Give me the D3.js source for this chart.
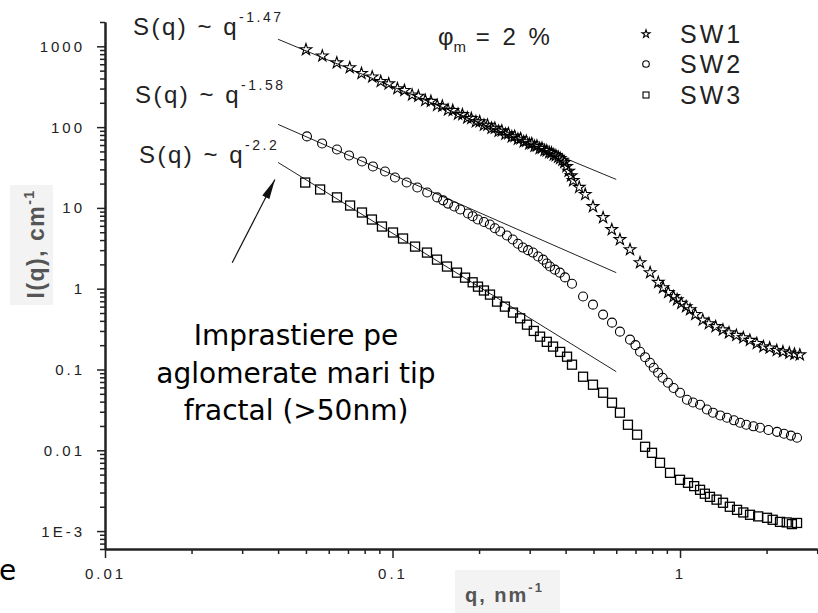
<!DOCTYPE html>
<html>
<head>
<meta charset="utf-8">
<script src="https://cdnjs.cloudflare.com/ajax/libs/d3/7.8.5/d3.min.js"></script>
<style>
    body { margin: 0; background: #fff; }
    svg { display: block; }
</style>
<script>
    // SW1 (stars)
    var sw1Q = [0.050, 0.057, 0.064, 0.071, 0.078, 0.085, 0.091, 0.097, 0.104, 0.110,
                0.117, 0.123, 0.130, 0.136, 0.143, 0.149, 0.156, 0.162, 0.169, 0.175,
                0.182, 0.188, 0.195, 0.201, 0.208, 0.214, 0.221, 0.227, 0.234, 0.240,
                0.247, 0.253, 0.260, 0.266, 0.273, 0.279, 0.286, 0.292, 0.299, 0.305,
                0.312, 0.318, 0.325, 0.331, 0.338, 0.344, 0.351, 0.357, 0.364, 0.370,
                0.377, 0.383, 0.390, 0.396, 0.403, 0.410, 0.418, 0.425, 0.446, 0.468,
                0.498, 0.540, 0.579, 0.618, 0.670, 0.726, 0.787, 0.840, 0.873, 0.910,
                0.950, 0.977, 1.01, 1.05, 1.084, 1.13, 1.20, 1.26, 1.33, 1.41,
                1.48, 1.57, 1.66, 1.75, 1.85, 1.95, 2.05, 2.17, 2.28, 2.40,
                2.50, 2.61];
    var sw1I = [910, 760, 625, 545, 462, 418, 368, 344, 300, 285,
                250, 242, 214, 209, 186, 182, 163, 161, 145, 143,
                130, 128, 117, 117, 106, 106, 97, 97, 89, 90,
                82, 83, 76, 77, 71, 72, 66, 67, 62, 62.5,
                58, 58.5, 54.5, 55, 51.5, 51, 48.5, 48, 45.5, 44.5,
                42.5, 41, 39, 36.5, 32.5, 28.5, 25, 21.8, 18, 14.7,
                10.4, 7.6, 5.4, 4.06, 3.05, 2.10, 1.58, 1.2, 1.03, 0.9,
                0.8, 0.73, 0.66, 0.6, 0.55, 0.48, 0.41, 0.37, 0.34, 0.31,
                0.285, 0.265, 0.248, 0.23, 0.21, 0.192, 0.185, 0.172, 0.166, 0.16,
                0.155, 0.152];

    // SW2 (circles)
    var sw2Q = [0.0504, 0.0569, 0.0641, 0.0706, 0.0783, 0.0855, 0.0942, 0.102, 0.112, 0.122,
                0.132, 0.143, 0.150, 0.156, 0.164, 0.172, 0.183, 0.190, 0.198, 0.208,
                0.218, 0.227, 0.237, 0.250, 0.262, 0.273, 0.284, 0.296, 0.308, 0.321,
                0.334, 0.344, 0.353, 0.367, 0.382, 0.398, 0.421, 0.460, 0.498, 0.540,
                0.580, 0.618, 0.670, 0.700, 0.726, 0.756, 0.786, 0.810, 0.839, 0.870,
                0.908, 0.950, 1.0, 1.057, 1.11, 1.174, 1.24, 1.302, 1.38, 1.457,
                1.54, 1.617, 1.70, 1.80, 1.898, 2.03, 2.175, 2.30, 2.43, 2.553];
    var sw2I = [76.7, 62.8, 52.9, 44.6, 37.6, 32.6, 28.2, 23.8, 20.6, 17.9,
                15.5, 13.5, 12.4, 11.3, 10.4, 9.55, 8.52, 7.9, 7.18, 6.7,
                6.23, 5.6, 5.10, 4.55, 4.06, 3.6, 3.23, 3.0, 2.80, 2.5,
                2.29, 2.05, 1.88, 1.72, 1.58, 1.38, 1.15, 0.80, 0.635, 0.478,
                0.38, 0.294, 0.234, 0.2, 0.166, 0.142, 0.121, 0.105, 0.0913, 0.079,
                0.0686, 0.059, 0.0516, 0.0422, 0.039, 0.0366, 0.032, 0.0292, 0.027, 0.0253,
                0.0235, 0.0219, 0.0207, 0.0198, 0.019, 0.0178, 0.0169, 0.016, 0.0152, 0.0143];

    // SW3 (squares)
    var sw3Q = [0.0497, 0.0560, 0.0641, 0.0712, 0.0783, 0.0848, 0.0919, 0.1004, 0.1088, 0.1198,
                0.1318, 0.1428, 0.1547, 0.1676, 0.1788, 0.190, 0.1983, 0.208, 0.2183, 0.231,
                0.246, 0.2624, 0.278, 0.2936, 0.310, 0.326, 0.344, 0.3617, 0.383, 0.4046,
                0.421, 0.460, 0.498, 0.540, 0.580, 0.618, 0.659, 0.709, 0.756, 0.799,
                0.852, 0.923, 1.0, 1.066, 1.12, 1.174, 1.22, 1.271, 1.34, 1.411,
                1.49, 1.579, 1.66, 1.752, 1.87, 2.007, 2.10, 2.227, 2.35, 2.45, 2.553];
    var sw3I = [20.6, 16.9, 13.5, 10.7, 8.77, 7.18, 5.88, 4.96, 4.18, 3.32,
                2.80, 2.29, 1.88, 1.58, 1.37, 1.2, 1.06, 0.95, 0.845, 0.692,
                0.6, 0.506, 0.43, 0.359, 0.3, 0.255, 0.22, 0.192, 0.165, 0.144,
                0.1147, 0.0814, 0.0648, 0.0516, 0.0388, 0.0292, 0.0207, 0.0156, 0.01105, 0.0093,
                0.0070, 0.00526, 0.00431, 0.00396, 0.0036, 0.00324, 0.0029, 0.00265, 0.00245, 0.00224,
                0.002, 0.00183, 0.0017, 0.00159, 0.00152, 0.00146, 0.00138, 0.0013, 0.00128, 0.00122, 0.00126];

    // power-law fit lines S(q) ~ q^-D, read at their two ends
    var fitQ = [0.04, 0.6];
    var fit1 = [1222, 22.5];
    var fit2 = [108, 1.58];
    var fit3 = [36.5, 0.094];
    var fitLabels = ["-1.47", "-1.58", "-2.2"];

    // arrow pointing to the fractal region (tail, head)
    var arrowQ = [0.0277, 0.039];
    var arrowI = [2.1, 22.5];

    var yMajor = [1000, 100, 10, 1, 0.1, 0.01, 0.001];
    var yMajorLabels = ["1000", "100", "10", "1", "0.1", "0.01", "1E-3"];
    var xMajor = [0.01, 0.1, 1];
    var xMajorLabels = ["0.01", "0.1", "1"];

    var seriesNames = ["SW1", "SW2", "SW3"];

    function makeSVG() {
        var svg = d3.select("body").append("svg")
                    .attr("width", 818)
                    .attr("height", 613);

        var x = d3.scaleLog().domain([0.01, 3]).range([105, 817.2]);
        var y = d3.scaleLog().domain([6e-4, 2000]).range([549, 22]);

        var axisColor = "#222";
        var font = "'Liberation Sans', Arial, sans-serif";

        // minor tick values
        var yMinor = [], xMinor = [];
        for (var e = -4; e <= 3; e++)
            for (var m = 2; m <= 9; m++) {
                var v = m * Math.pow(10, e);
                if (v >= 6e-4 && v <= 2000) yMinor.push(v);
            }
        for (var e = -2; e <= 0; e++)
            for (var m = 2; m <= 9; m++) {
                var v = m * Math.pow(10, e);
                if (v <= 3) xMinor.push(v);
            }

        // axis label boxes
        svg.append("rect").attr("x", 10).attr("y", 185).attr("width", 43).attr("height", 120).attr("fill", "#f3f3f3");
        svg.append("rect").attr("x", 455).attr("y", 570).attr("width", 105).attr("height", 43).attr("fill", "#f3f3f3");

        // axes
        var gy = svg.append("g").attr("transform", "translate(105,0)");
        gy.append("g").call(d3.axisLeft(y).tickValues(yMinor).tickSize(5).tickSizeOuter(0).tickFormat(""));
        gy.append("g").call(d3.axisLeft(y).tickValues(yMajor).tickSize(8).tickSizeOuter(0).tickFormat(""));

        var gx = svg.append("g").attr("transform", "translate(0,549)");
        gx.append("g").call(d3.axisBottom(x).tickValues(xMinor).tickSize(5).tickSizeOuter(0).tickFormat(""));
        gx.append("g").call(d3.axisBottom(x).tickValues(xMajor).tickSize(9).tickSizeOuter(0).tickFormat(""));

        svg.selectAll(".domain").attr("stroke", axisColor).attr("stroke-width", 2);
        svg.selectAll(".tick line").attr("stroke", axisColor).attr("stroke-width", 1.5);

        svg.append("g").selectAll("text").data(yMajor)
           .enter().append("text")
           .attr("x", 85)
           .attr("y", d => y(d) + 5.5)
           .attr("text-anchor", "end")
           .attr("font-family", font)
           .attr("font-size", "15px")
           .attr("letter-spacing", "3px")
           .attr("fill", "#222")
           .text((d, i) => yMajorLabels[i]);

        svg.append("g").selectAll("text").data(xMajor)
           .enter().append("text")
           .attr("x", d => x(d) + 0.5)
           .attr("y", 579)
           .attr("text-anchor", "middle")
           .attr("font-family", font)
           .attr("font-size", "15px")
           .attr("letter-spacing", "3px")
           .attr("fill", "#222")
           .text((d, i) => xMajorLabels[i]);

        // axis titles
        var yt = svg.append("text")
                    .attr("transform", "translate(44,244) rotate(-90)")
                    .attr("text-anchor", "middle")
                    .attr("font-family", font)
                    .attr("font-weight", "bold")
                    .attr("font-size", "23px")
                    .attr("letter-spacing", "1.5px")
                    .attr("fill", "#555");
        yt.append("tspan").text("I(q), cm");
        yt.append("tspan").attr("dy", -10).attr("font-size", "14px").text("-1");

        var xt = svg.append("text")
                    .attr("x", 465)
                    .attr("y", 602)
                    .attr("font-family", font)
                    .attr("font-weight", "bold")
                    .attr("font-size", "20px")
                    .attr("letter-spacing", "2px")
                    .attr("fill", "#555");
        xt.append("tspan").text("q, nm");
        xt.append("tspan").attr("dy", -10).attr("font-size", "13px").text("-1");

        // fit lines
        var line = d3.line().x(d => x(d[0])).y(d => y(d[1]));
        [fit1, fit2, fit3].forEach(function (f) {
            svg.append("path")
               .attr("d", line(fitQ.map((q, i) => [q, f[i]])))
               .attr("fill", "none")
               .attr("stroke", "#222")
               .attr("stroke-width", 1);
        });

        // data
        var star = d3.symbol().type(d3.symbolStar).size(42);
        svg.append("g").selectAll("path").data(sw1Q)
           .enter().append("path")
           .attr("d", star)
           .attr("transform", (d, i) => "translate(" + x(d) + "," + y(sw1I[i]) + ")")
           .attr("fill", "none")
           .attr("stroke", "#000")
           .attr("stroke-width", 1.1);

        svg.append("g").selectAll("circle").data(sw2Q)
           .enter().append("circle")
           .attr("cx", d => x(d))
           .attr("cy", (d, i) => y(sw2I[i]))
           .attr("r", 4.5)
           .attr("fill", "none")
           .attr("stroke", "#000")
           .attr("stroke-width", 1.1);

        svg.append("g").selectAll("rect").data(sw3Q)
           .enter().append("rect")
           .attr("x", d => x(d) - 4.5)
           .attr("y", (d, i) => y(sw3I[i]) - 4.5)
           .attr("width", 9)
           .attr("height", 9)
           .attr("fill", "none")
           .attr("stroke", "#000")
           .attr("stroke-width", 1.3);

        // arrow
        svg.append("defs").append("marker")
           .attr("id", "head")
           .attr("viewBox", "0 0 20 8")
           .attr("refX", 20).attr("refY", 4)
           .attr("markerWidth", 20).attr("markerHeight", 8)
           .attr("markerUnits", "userSpaceOnUse")
           .attr("orient", "auto")
           .append("path").attr("d", "M0,0 L20,4 L0,8 Z").attr("fill", "#111");
        svg.append("line")
           .attr("x1", x(arrowQ[0])).attr("y1", y(arrowI[0]))
           .attr("x2", x(arrowQ[1])).attr("y2", y(arrowI[1]))
           .attr("stroke", "#111").attr("stroke-width", 1.2)
           .attr("marker-end", "url(#head)");

        // S(q) labels
        var sLabelX = [133, 135, 139];
        var sLabelY = [35, 103, 163];
        fitLabels.forEach(function (lab, i) {
            var t = svg.append("text")
                       .attr("x", sLabelX[i])
                       .attr("y", sLabelY[i])
                       .attr("font-family", font)
                       .attr("font-size", "24px")
                       .attr("letter-spacing", "2.5px")
                       .attr("fill", "#222");
            t.append("tspan").text("S(q) ~ q");
            t.append("tspan").attr("dy", -13).attr("font-size", "14px").attr("letter-spacing", "2.5px").text(lab);
        });

        // phi_m
        var ph = svg.append("text")
                    .attr("x", 438).attr("y", 45)
                    .attr("font-family", font)
                    .attr("font-size", "24px")
                    .attr("fill", "#222");
        ph.append("tspan").text("\u03c6");
        ph.append("tspan").attr("dy", 7).attr("font-size", "15px").text("m");
        ph.append("tspan").attr("dy", -7).attr("letter-spacing", "3px").text(" = 2 %");

        // legend
        var legY = [34, 64, 95];
        var leg = svg.append("g");
        leg.append("path").attr("d", d3.symbol().type(d3.symbolStar).size(20))
           .attr("transform", "translate(646," + legY[0] + ")")
           .attr("fill", "none").attr("stroke", "#000").attr("stroke-width", 1.1);
        leg.append("circle").attr("cx", 646).attr("cy", legY[1]).attr("r", 3.3)
           .attr("fill", "none").attr("stroke", "#000").attr("stroke-width", 1.1);
        leg.append("rect").attr("x", 643).attr("y", legY[2] - 3).attr("width", 6).attr("height", 6)
           .attr("fill", "none").attr("stroke", "#000").attr("stroke-width", 1.1);
        leg.selectAll("text").data(seriesNames)
           .enter().append("text")
           .attr("x", 680)
           .attr("y", (d, i) => legY[i] + 9)
           .attr("font-family", font)
           .attr("font-size", "25px")
           .attr("letter-spacing", "3px")
           .attr("fill", "#222")
           .text(d => d);

        // annotation
        var note = ["Imprastiere pe", "aglomerate mari tip", "fractal (>50nm)"];
        svg.append("g").selectAll("text").data(note)
           .enter().append("text")
           .attr("x", 296)
           .attr("y", (d, i) => 345 + i * 37.5)
           .attr("text-anchor", "middle")
           .attr("font-family", "'DejaVu Sans', Verdana, sans-serif")
           .attr("font-size", "28px")
           .attr("fill", "#000")
           .text(d => d);

        svg.append("text")
           .attr("x", -1).attr("y", 580)
           .attr("font-family", "'DejaVu Sans', Verdana, sans-serif")
           .attr("font-size", "28px")
           .attr("fill", "#000")
           .text("e");
    }
</script>
</head>
<body onload="makeSVG()">
</body>
</html>
